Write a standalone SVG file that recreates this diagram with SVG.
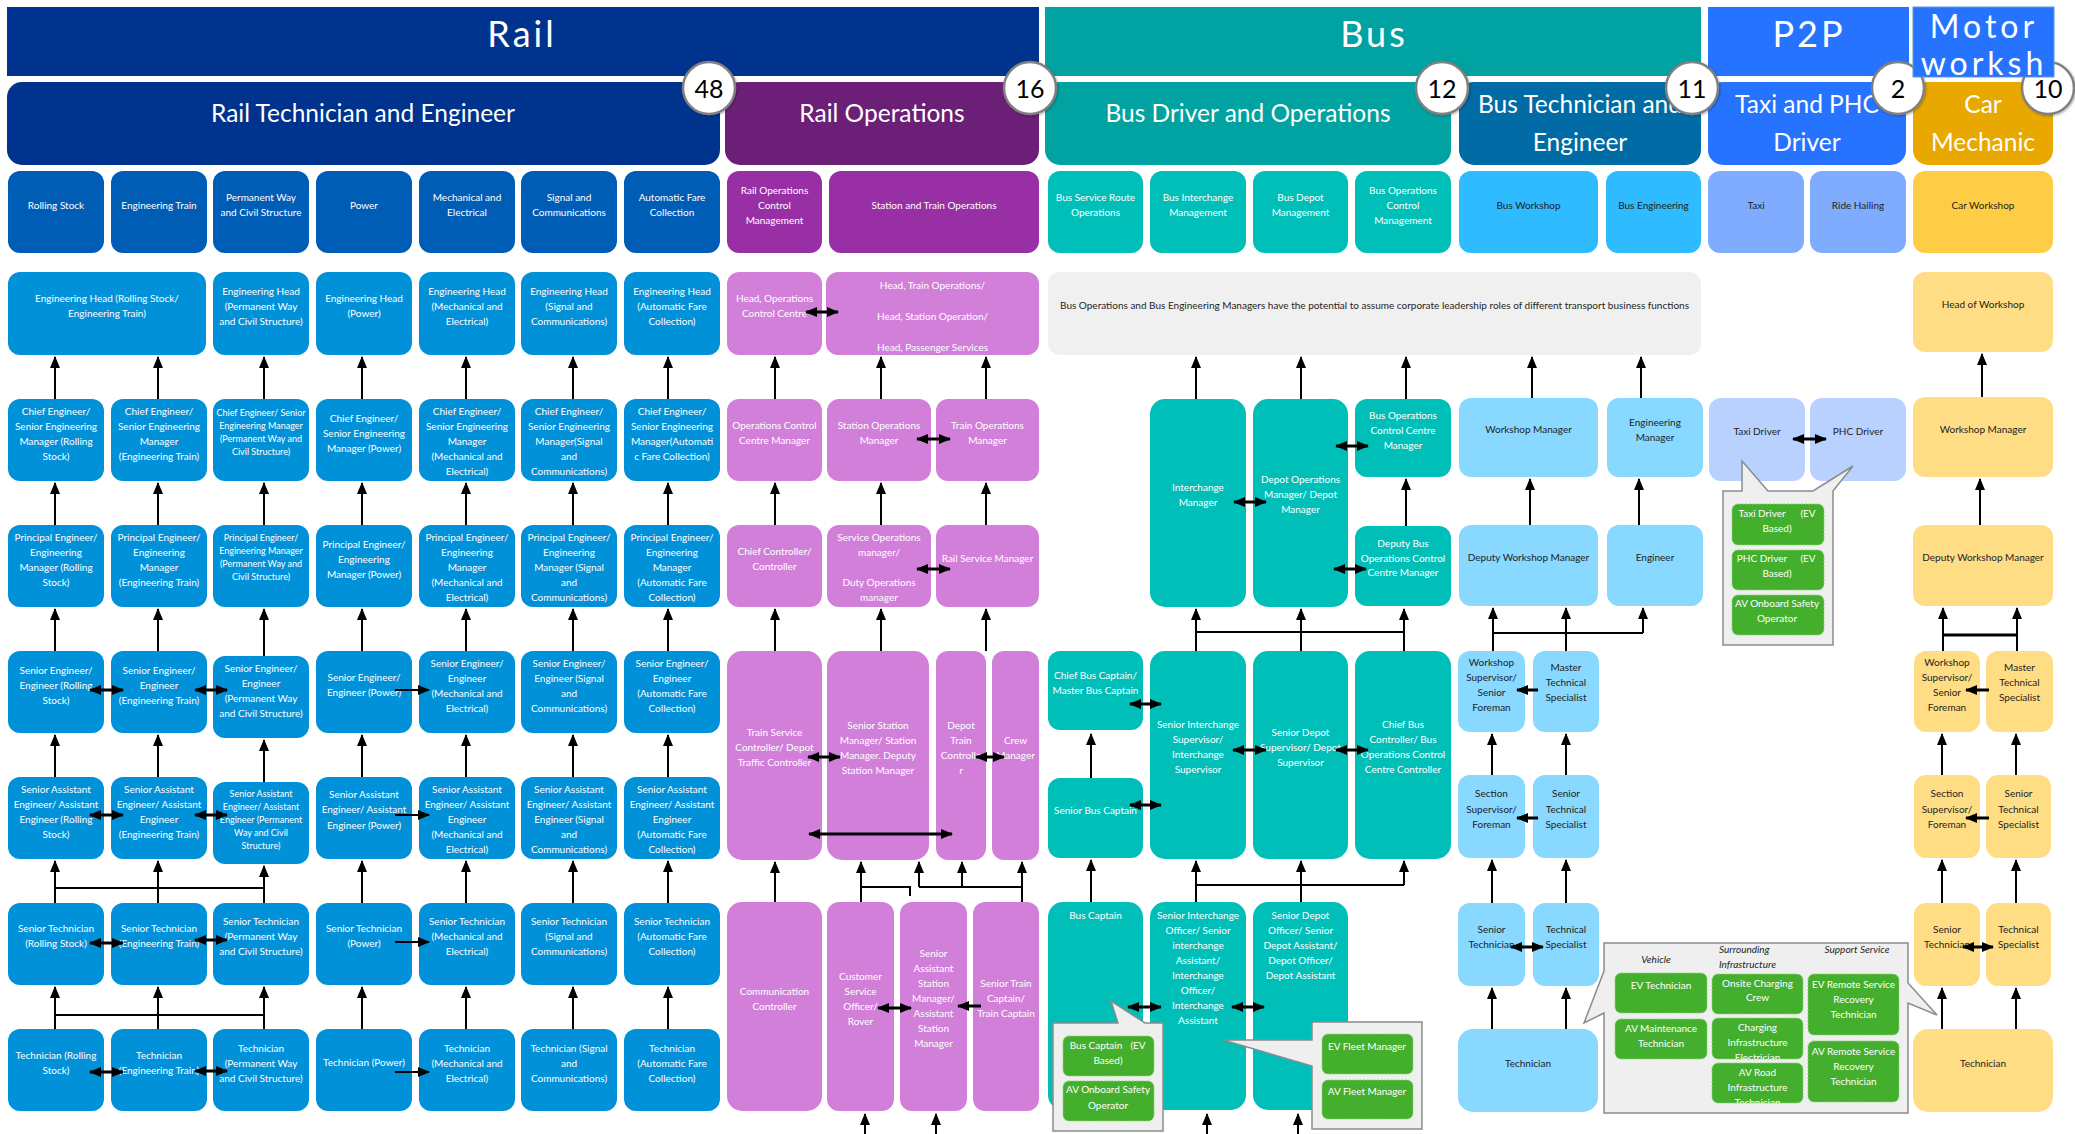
<svg xmlns="http://www.w3.org/2000/svg" width="2075" height="1134" viewBox="0 0 2075 1134">
<defs>
<style>
.t{font-family:Lato,"Open Sans","Liberation Sans",sans-serif;font-size:10px;text-anchor:middle;dominant-baseline:central}
.s9{font-size:9px}
.w{fill:#fff}.k{fill:#1e1e1e}
.it{font-style:italic}
.h1{font-family:Lato,"Open Sans",sans-serif;font-size:36px;fill:#fff;text-anchor:middle;letter-spacing:3px}
.h1m{font-family:Lato,"Open Sans",sans-serif;font-size:32px;fill:#fff;text-anchor:middle;letter-spacing:4px}
.h2{font-family:Lato,"Open Sans",sans-serif;font-size:24.5px;fill:#fff;text-anchor:middle}
.num{font-family:Lato,"Open Sans",sans-serif;font-size:25px;fill:#000;text-anchor:middle;dominant-baseline:central}
.rh{fill:#00338d}.rc{fill:#005db6}.rr{fill:#0091d9}
.oh{fill:#6c1f77}.oc{fill:#982fa4}.or{fill:#d27fda}
.bh{fill:#00a3a1}.bc{fill:#00bfb9}
.th{fill:#006ba5}.tc{fill:#2ebbff}.tr{fill:#88d8ff}
.ph{fill:#2673ff}.pc{fill:#80acff}.pr{fill:#b8d1ff}
.ch{fill:#e9a800}.cc{fill:#ffcd45}.cr{fill:#ffdd85}
.nt{fill:#f0f0f0}
.gn{fill:#43af2c;stroke:#8bd572;stroke-width:1;stroke-dasharray:2 1.5}
.co{fill:#efefef;stroke:#8c8c8c;stroke-width:1.5}
.cir{fill:#fff;stroke:#808080;stroke-width:2.5}
.ln{stroke:#000;stroke-width:2;fill:none}
.bd{stroke:#000;stroke-width:3;fill:none}
</style>
<marker id="a" viewBox="0 0 12 10" refX="11" refY="5" markerWidth="12" markerHeight="10" markerUnits="userSpaceOnUse" orient="auto-start-reverse"><path d="M0,0 L12,5 L0,10 Z" fill="#000"/></marker>
<clipPath id="cpM"><rect x="1913" y="7" width="141" height="70"/></clipPath>
<clipPath id="cpH"><rect x="826" y="272" width="213" height="83"/></clipPath>
<clipPath id="cpCI"><rect x="1712" y="1018" width="91" height="41"/></clipPath>
<clipPath id="cpAR"><rect x="1712" y="1063" width="91" height="40"/></clipPath>
<filter id="sh" x="-20%" y="-20%" width="140%" height="140%"><feDropShadow dx="1" dy="1" stdDeviation="1" flood-opacity="0.3"/></filter>
</defs>

<!-- Top headers -->
<g id="hdr-rail"><rect class="rh" x="7" y="7" width="1032" height="69"/><text class="h1" x="522" y="47">Rail</text></g>
<g id="hdr-bus"><rect class="bh" x="1045" y="7" width="656" height="69"/><text class="h1" x="1374" y="47">Bus</text></g>
<g id="hdr-p2p"><rect class="ph" x="1708" y="7" width="201" height="69"/><text class="h1" x="1809" y="47">P2P</text></g>

<!-- Sub headers -->
<g id="sub-rte"><rect class="rh" x="7" y="82" width="713" height="83" rx="15"/><text class="h2" x="363" y="122">Rail Technician and Engineer</text></g>
<g id="sub-ro"><rect class="oh" x="725" y="82" width="314" height="83" rx="15"/><text class="h2" x="882" y="122">Rail Operations</text></g>
<g id="sub-bdo"><rect class="bh" x="1045" y="82" width="406" height="83" rx="15"/><text class="h2" x="1248" y="122">Bus Driver and Operations</text></g>
<g id="sub-bte"><rect class="th" x="1459" y="82" width="242" height="83" rx="15"/><text class="h2" x="1580" y="113">Bus Technician and</text><text class="h2" x="1580" y="151">Engineer</text></g>
<g id="sub-taxi"><rect class="ph" x="1708" y="82" width="198" height="83" rx="15"/><text class="h2" x="1807" y="113">Taxi and PHC</text><text class="h2" x="1807" y="151">Driver</text></g>
<g id="sub-car"><rect class="ch" x="1913" y="82" width="140" height="83" rx="15"/><text class="h2" x="1983" y="113">Car</text><text class="h2" x="1983" y="151">Mechanic</text></g>

<!-- Circles -->
<g id="n48"><circle class="cir" cx="709" cy="88" r="26" filter="url(#sh)"/><text class="num" x="709" y="88">48</text></g>
<g id="n16"><circle class="cir" cx="1030" cy="88" r="26" filter="url(#sh)"/><text class="num" x="1030" y="88">16</text></g>
<g id="n12"><circle class="cir" cx="1442" cy="88" r="26" filter="url(#sh)"/><text class="num" x="1442" y="88">12</text></g>
<g id="n11"><circle class="cir" cx="1692" cy="88" r="26" filter="url(#sh)"/><text class="num" x="1692" y="88">11</text></g>
<g id="n2"><circle class="cir" cx="1898" cy="88" r="26" filter="url(#sh)"/><text class="num" x="1898" y="88">2</text></g>
<g id="n10"><circle class="cir" cx="2048" cy="88" r="26" filter="url(#sh)"/><text class="num" x="2048" y="88">10</text></g>

<g id="hdr-motor"><rect class="ph" x="1913" y="7" width="141" height="70" stroke="#5b9bd5" stroke-width="1"/><g clip-path="url(#cpM)"><text class="h1m" x="1984" y="38">Motor</text><text class="h1m" x="1984" y="75">worksh</text></g></g>

<!-- Category row -->
<g id="cat-rs"><rect class="rc" x="8" y="171" width="96" height="82" rx="12"/><text class="t w"><tspan x="56" y="204.5">Rolling Stock</tspan></text></g>
<g id="cat-et"><rect class="rc" x="111" y="171" width="96" height="82" rx="12"/><text class="t w"><tspan x="159" y="204.5">Engineering Train</tspan></text></g>
<g id="cat-pw"><rect class="rc" x="213" y="171" width="96" height="82" rx="12"/><text class="t w"><tspan x="261" y="197">Permanent Way</tspan><tspan x="261" y="212">and Civil Structure</tspan></text></g>
<g id="cat-pow"><rect class="rc" x="316" y="171" width="96" height="82" rx="12"/><text class="t w"><tspan x="364" y="204.5">Power</tspan></text></g>
<g id="cat-me"><rect class="rc" x="419" y="171" width="96" height="82" rx="12"/><text class="t w"><tspan x="467" y="197">Mechanical and</tspan><tspan x="467" y="212">Electrical</tspan></text></g>
<g id="cat-sc"><rect class="rc" x="521" y="171" width="96" height="82" rx="12"/><text class="t w"><tspan x="569" y="197">Signal and</tspan><tspan x="569" y="212">Communications</tspan></text></g>
<g id="cat-afc"><rect class="rc" x="624" y="171" width="96" height="82" rx="12"/><text class="t w"><tspan x="672" y="197">Automatic Fare</tspan><tspan x="672" y="212">Collection</tspan></text></g>
<g id="cat-rocm"><rect class="oc" x="727" y="171" width="95" height="82" rx="12"/><text class="t w"><tspan x="774.5" y="189.5">Rail Operations</tspan><tspan x="774.5" y="204.5">Control</tspan><tspan x="774.5" y="219.5">Management</tspan></text></g>
<g id="cat-sto"><rect class="oc" x="829" y="171" width="210" height="82" rx="12"/><text class="t w"><tspan x="934" y="204.5">Station and Train Operations</tspan></text></g>
<g id="cat-bsro"><rect class="bc" x="1048" y="171" width="95" height="82" rx="12"/><text class="t w"><tspan x="1095.5" y="197">Bus Service Route</tspan><tspan x="1095.5" y="212">Operations</tspan></text></g>
<g id="cat-bim"><rect class="bc" x="1150" y="171" width="96" height="82" rx="12"/><text class="t w"><tspan x="1198" y="197">Bus Interchange</tspan><tspan x="1198" y="212">Management</tspan></text></g>
<g id="cat-bdm"><rect class="bc" x="1253" y="171" width="95" height="82" rx="12"/><text class="t w"><tspan x="1300.5" y="197">Bus Depot</tspan><tspan x="1300.5" y="212">Management</tspan></text></g>
<g id="cat-bocm"><rect class="bc" x="1355" y="171" width="96" height="82" rx="12"/><text class="t w"><tspan x="1403" y="189.5">Bus Operations</tspan><tspan x="1403" y="204.5">Control</tspan><tspan x="1403" y="219.5">Management</tspan></text></g>
<g id="cat-bw"><rect class="tc" x="1459" y="171" width="139" height="82" rx="12"/><text class="t k"><tspan x="1528.5" y="204.5">Bus Workshop</tspan></text></g>
<g id="cat-be"><rect class="tc" x="1606" y="171" width="95" height="82" rx="12"/><text class="t k"><tspan x="1653.5" y="204.5">Bus Engineering</tspan></text></g>
<g id="cat-taxi"><rect class="pc" x="1708" y="171" width="96" height="82" rx="12"/><text class="t k"><tspan x="1756" y="204.5">Taxi</tspan></text></g>
<g id="cat-ride"><rect class="pc" x="1810" y="171" width="96" height="82" rx="12"/><text class="t k"><tspan x="1858" y="204.5">Ride Hailing</tspan></text></g>
<g id="cat-cw"><rect class="cc" x="1913" y="171" width="140" height="82" rx="12"/><text class="t k"><tspan x="1983" y="204.5">Car Workshop</tspan></text></g>

<!-- Row 2 -->
<g id="eh-rset"><rect class="rr" x="8" y="272" width="198" height="83" rx="12"/><text class="t w"><tspan x="107" y="298">Engineering Head (Rolling Stock/</tspan><tspan x="107" y="313">Engineering Train)</tspan></text></g>
<g id="eh-pw"><rect class="rr" x="213" y="272" width="96" height="83" rx="12"/><text class="t w"><tspan x="261" y="290.5">Engineering Head</tspan><tspan x="261" y="305.5">(Permanent Way</tspan><tspan x="261" y="320.5">and Civil Structure)</tspan></text></g>
<g id="eh-pow"><rect class="rr" x="316" y="272" width="96" height="83" rx="12"/><text class="t w"><tspan x="364" y="298">Engineering Head</tspan><tspan x="364" y="313">(Power)</tspan></text></g>
<g id="eh-me"><rect class="rr" x="419" y="272" width="96" height="83" rx="12"/><text class="t w"><tspan x="467" y="290.5">Engineering Head</tspan><tspan x="467" y="305.5">(Mechanical and</tspan><tspan x="467" y="320.5">Electrical)</tspan></text></g>
<g id="eh-sc"><rect class="rr" x="521" y="272" width="96" height="83" rx="12"/><text class="t w"><tspan x="569" y="290.5">Engineering Head</tspan><tspan x="569" y="305.5">(Signal and</tspan><tspan x="569" y="320.5">Communications)</tspan></text></g>
<g id="eh-afc"><rect class="rr" x="624" y="272" width="96" height="83" rx="12"/><text class="t w"><tspan x="672" y="290.5">Engineering Head</tspan><tspan x="672" y="305.5">(Automatic Fare</tspan><tspan x="672" y="320.5">Collection)</tspan></text></g>
<g id="head-occ"><rect class="or" x="727" y="272" width="95" height="83" rx="12"/><text class="t w"><tspan x="774.5" y="298">Head, Operations</tspan><tspan x="774.5" y="313">Control Centre</tspan></text></g>
<g id="head-train"><rect class="or" x="826" y="272" width="213" height="83" rx="12"/><text class="t w" clip-path="url(#cpH)"><tspan x="932.5" y="285">Head, Train Operations/</tspan><tspan x="932.5" y="316">Head, Station Operation/</tspan><tspan x="932.5" y="347">Head, Passenger Services</tspan></text></g>
<g id="bus-note"><rect class="nt" x="1048" y="272" width="653" height="83" rx="12"/><text class="t k"><tspan x="1374.5" y="305">Bus Operations and Bus Engineering Managers have the potential to assume corporate leadership roles of different transport business functions</tspan></text></g>
<g id="car-head"><rect class="cr" x="1913" y="272" width="140" height="80" rx="12"/><text class="t k"><tspan x="1983" y="304">Head of Workshop</tspan></text></g>

<!-- Row 3 -->
<g id="ce-rs"><rect class="rr" x="8" y="399" width="96" height="82" rx="12"/><text class="t w"><tspan x="56" y="411">Chief Engineer/</tspan><tspan x="56" y="426">Senior Engineering</tspan><tspan x="56" y="441">Manager (Rolling</tspan><tspan x="56" y="456">Stock)</tspan></text></g>
<g id="ce-et"><rect class="rr" x="111" y="399" width="96" height="82" rx="12"/><text class="t w"><tspan x="159" y="411">Chief Engineer/</tspan><tspan x="159" y="426">Senior Engineering</tspan><tspan x="159" y="441">Manager</tspan><tspan x="159" y="456">(Engineering Train)</tspan></text></g>
<g id="ce-pw"><rect class="rr" x="213" y="399" width="96" height="82" rx="12"/><text class="t w s9"><tspan x="261" y="412">Chief Engineer/ Senior</tspan><tspan x="261" y="425">Engineering Manager</tspan><tspan x="261" y="438">(Permanent Way and</tspan><tspan x="261" y="451">Civil Structure)</tspan></text></g>
<g id="ce-pow"><rect class="rr" x="316" y="399" width="96" height="82" rx="12"/><text class="t w"><tspan x="364" y="417.5">Chief Engineer/</tspan><tspan x="364" y="432.5">Senior Engineering</tspan><tspan x="364" y="447.5">Manager (Power)</tspan></text></g>
<g id="ce-me"><rect class="rr" x="419" y="399" width="96" height="82" rx="12"/><text class="t w"><tspan x="467" y="411">Chief Engineer/</tspan><tspan x="467" y="426">Senior Engineering</tspan><tspan x="467" y="441">Manager</tspan><tspan x="467" y="456">(Mechanical and</tspan><tspan x="467" y="471">Electrical)</tspan></text></g>
<g id="ce-sc"><rect class="rr" x="521" y="399" width="96" height="82" rx="12"/><text class="t w"><tspan x="569" y="411">Chief Engineer/</tspan><tspan x="569" y="426">Senior Engineering</tspan><tspan x="569" y="441">Manager(Signal</tspan><tspan x="569" y="456">and</tspan><tspan x="569" y="471">Communications)</tspan></text></g>
<g id="ce-afc"><rect class="rr" x="624" y="399" width="96" height="82" rx="12"/><text class="t w"><tspan x="672" y="411">Chief Engineer/</tspan><tspan x="672" y="426">Senior Engineering</tspan><tspan x="672" y="441">Manager(Automati</tspan><tspan x="672" y="456">c Fare Collection)</tspan></text></g>
<g id="occ-mgr"><rect class="or" x="727" y="399" width="95" height="82" rx="12"/><text class="t w"><tspan x="774.5" y="425">Operations Control</tspan><tspan x="774.5" y="440">Centre Manager</tspan></text></g>
<g id="so-mgr"><rect class="or" x="827" y="399" width="104" height="82" rx="12"/><text class="t w"><tspan x="879" y="425">Station Operations</tspan><tspan x="879" y="440">Manager</tspan></text></g>
<g id="to-mgr"><rect class="or" x="936" y="399" width="103" height="82" rx="12"/><text class="t w"><tspan x="987.5" y="425">Train Operations</tspan><tspan x="987.5" y="440">Manager</tspan></text></g>
<g id="ic-mgr"><rect class="bc" x="1150" y="399" width="96" height="208" rx="15"/><text class="t w"><tspan x="1198" y="487">Interchange</tspan><tspan x="1198" y="502">Manager</tspan></text></g>
<g id="depot-mgr"><rect class="bc" x="1253" y="399" width="95" height="208" rx="15"/><text class="t w"><tspan x="1300.5" y="479">Depot Operations</tspan><tspan x="1300.5" y="494">Manager/ Depot</tspan><tspan x="1300.5" y="509">Manager</tspan></text></g>
<g id="bocc-mgr"><rect class="bc" x="1355" y="399" width="96" height="78" rx="12"/><text class="t w"><tspan x="1403" y="415">Bus Operations</tspan><tspan x="1403" y="430">Control Centre</tspan><tspan x="1403" y="445">Manager</tspan></text></g>
<g id="bw-mgr"><rect class="tr" x="1459" y="398" width="139" height="79" rx="12"/><text class="t k"><tspan x="1528.5" y="429">Workshop Manager</tspan></text></g>
<g id="be-mgr"><rect class="tr" x="1607" y="398" width="96" height="79" rx="12"/><text class="t k"><tspan x="1655" y="422">Engineering</tspan><tspan x="1655" y="437">Manager</tspan></text></g>
<g id="taxi-drv"><rect class="pr" x="1709" y="398" width="96" height="83" rx="12"/><text class="t k"><tspan x="1757" y="431">Taxi Driver</tspan></text></g>
<g id="phc-drv"><rect class="pr" x="1810" y="398" width="96" height="83" rx="12"/><text class="t k"><tspan x="1858" y="431">PHC Driver</tspan></text></g>
<g id="car-wm"><rect class="cr" x="1913" y="397" width="140" height="80" rx="12"/><text class="t k"><tspan x="1983" y="429">Workshop Manager</tspan></text></g>

<!-- Row 4 -->
<g id="pe-rs"><rect class="rr" x="8" y="525" width="96" height="82" rx="12"/><text class="t w"><tspan x="56" y="537">Principal Engineer/</tspan><tspan x="56" y="552">Engineering</tspan><tspan x="56" y="567">Manager (Rolling</tspan><tspan x="56" y="582">Stock)</tspan></text></g>
<g id="pe-et"><rect class="rr" x="111" y="525" width="96" height="82" rx="12"/><text class="t w"><tspan x="159" y="537">Principal Engineer/</tspan><tspan x="159" y="552">Engineering</tspan><tspan x="159" y="567">Manager</tspan><tspan x="159" y="582">(Engineering Train)</tspan></text></g>
<g id="pe-pw"><rect class="rr" x="213" y="525" width="96" height="82" rx="12"/><text class="t w s9"><tspan x="261" y="537">Principal Engineer/</tspan><tspan x="261" y="550">Engineering Manager</tspan><tspan x="261" y="563">(Permanent Way and</tspan><tspan x="261" y="576">Civil Structure)</tspan></text></g>
<g id="pe-pow"><rect class="rr" x="316" y="525" width="96" height="82" rx="12"/><text class="t w"><tspan x="364" y="543.5">Principal Engineer/</tspan><tspan x="364" y="558.5">Engineering</tspan><tspan x="364" y="573.5">Manager (Power)</tspan></text></g>
<g id="pe-me"><rect class="rr" x="419" y="525" width="96" height="82" rx="12"/><text class="t w"><tspan x="467" y="537">Principal Engineer/</tspan><tspan x="467" y="552">Engineering</tspan><tspan x="467" y="567">Manager</tspan><tspan x="467" y="582">(Mechanical and</tspan><tspan x="467" y="597">Electrical)</tspan></text></g>
<g id="pe-sc"><rect class="rr" x="521" y="525" width="96" height="82" rx="12"/><text class="t w"><tspan x="569" y="537">Principal Engineer/</tspan><tspan x="569" y="552">Engineering</tspan><tspan x="569" y="567">Manager (Signal</tspan><tspan x="569" y="582">and</tspan><tspan x="569" y="597">Communications)</tspan></text></g>
<g id="pe-afc"><rect class="rr" x="624" y="525" width="96" height="82" rx="12"/><text class="t w"><tspan x="672" y="537">Principal Engineer/</tspan><tspan x="672" y="552">Engineering</tspan><tspan x="672" y="567">Manager</tspan><tspan x="672" y="582">(Automatic Fare</tspan><tspan x="672" y="597">Collection)</tspan></text></g>
<g id="chief-ctrl"><rect class="or" x="727" y="525" width="95" height="82" rx="12"/><text class="t w"><tspan x="774.5" y="551">Chief Controller/</tspan><tspan x="774.5" y="566">Controller</tspan></text></g>
<g id="svc-ops"><rect class="or" x="827" y="525" width="104" height="82" rx="12"/><text class="t w"><tspan x="879" y="537">Service Operations</tspan><tspan x="879" y="552">manager/</tspan><tspan x="879" y="582">Duty Operations</tspan><tspan x="879" y="597">manager</tspan></text></g>
<g id="rail-svc"><rect class="or" x="936" y="525" width="103" height="82" rx="12"/><text class="t w"><tspan x="987.5" y="558">Rail Service Manager</tspan></text></g>
<g id="dep-bocc"><rect class="bc" x="1355" y="526" width="96" height="80" rx="12"/><text class="t w"><tspan x="1403" y="543">Deputy Bus</tspan><tspan x="1403" y="557.5">Operations Control</tspan><tspan x="1403" y="572">Centre Manager</tspan></text></g>
<g id="bw-dep"><rect class="tr" x="1459" y="525" width="139" height="81" rx="12"/><text class="t k"><tspan x="1528.5" y="557">Deputy Workshop Manager</tspan></text></g>
<g id="be-eng"><rect class="tr" x="1607" y="525" width="96" height="81" rx="12"/><text class="t k"><tspan x="1655" y="557">Engineer</tspan></text></g>
<g id="car-dep"><rect class="cr" x="1913" y="525" width="140" height="81" rx="12"/><text class="t k"><tspan x="1983" y="557">Deputy Workshop Manager</tspan></text></g>

<!-- Row 5 -->
<g id="se-rs"><rect class="rr" x="8" y="651" width="96" height="82" rx="12"/><text class="t w"><tspan x="56" y="669.5">Senior Engineer/</tspan><tspan x="56" y="684.5">Engineer (Rolling</tspan><tspan x="56" y="699.5">Stock)</tspan></text></g>
<g id="se-et"><rect class="rr" x="111" y="651" width="96" height="82" rx="12"/><text class="t w"><tspan x="159" y="669.5">Senior Engineer/</tspan><tspan x="159" y="684.5">Engineer</tspan><tspan x="159" y="699.5">(Engineering Train)</tspan></text></g>
<g id="se-pw"><rect class="rr" x="213" y="656" width="96" height="82" rx="12"/><text class="t w"><tspan x="261" y="668">Senior Engineer/</tspan><tspan x="261" y="683">Engineer</tspan><tspan x="261" y="698">(Permanent Way</tspan><tspan x="261" y="713">and Civil Structure)</tspan></text></g>
<g id="se-pow"><rect class="rr" x="316" y="651" width="96" height="82" rx="12"/><text class="t w"><tspan x="364" y="677">Senior Engineer/</tspan><tspan x="364" y="692">Engineer (Power)</tspan></text></g>
<g id="se-me"><rect class="rr" x="419" y="651" width="96" height="82" rx="12"/><text class="t w"><tspan x="467" y="663">Senior Engineer/</tspan><tspan x="467" y="678">Engineer</tspan><tspan x="467" y="693">(Mechanical and</tspan><tspan x="467" y="708">Electrical)</tspan></text></g>
<g id="se-sc"><rect class="rr" x="521" y="651" width="96" height="82" rx="12"/><text class="t w"><tspan x="569" y="663">Senior Engineer/</tspan><tspan x="569" y="678">Engineer (Signal</tspan><tspan x="569" y="693">and</tspan><tspan x="569" y="708">Communications)</tspan></text></g>
<g id="se-afc"><rect class="rr" x="624" y="651" width="96" height="82" rx="12"/><text class="t w"><tspan x="672" y="663">Senior Engineer/</tspan><tspan x="672" y="678">Engineer</tspan><tspan x="672" y="693">(Automatic Fare</tspan><tspan x="672" y="708">Collection)</tspan></text></g>
<g id="tsc"><rect class="or" x="727" y="651" width="95" height="209" rx="15"/><text class="t w"><tspan x="774.5" y="732">Train Service</tspan><tspan x="774.5" y="747">Controller/ Depot</tspan><tspan x="774.5" y="762">Traffic Controller</tspan></text></g>
<g id="ssm"><rect class="or" x="827" y="651" width="102" height="209" rx="15"/><text class="t w"><tspan x="878" y="724.5">Senior Station</tspan><tspan x="878" y="739.5">Manager/ Station</tspan><tspan x="878" y="754.5">Manager. Deputy</tspan><tspan x="878" y="769.5">Station Manager</tspan></text></g>
<g id="dtc"><rect class="or" x="936" y="651" width="50" height="209" rx="12"/><text class="t w"><tspan x="961" y="724.5">Depot</tspan><tspan x="961" y="739.5">Train</tspan><tspan x="961" y="754.5">Controlle</tspan><tspan x="961" y="769.5">r</tspan></text></g>
<g id="crew"><rect class="or" x="992" y="651" width="47" height="209" rx="12"/><text class="t w"><tspan x="1015.5" y="739.5">Crew</tspan><tspan x="1015.5" y="754.5">Manager</tspan></text></g>
<g id="cbc"><rect class="bc" x="1048" y="651" width="95" height="79" rx="12"/><text class="t w"><tspan x="1095.5" y="675">Chief Bus Captain/</tspan><tspan x="1095.5" y="690">Master Bus Captain</tspan></text></g>
<g id="sis"><rect class="bc" x="1150" y="651" width="96" height="208" rx="15"/><text class="t w"><tspan x="1198" y="724">Senior Interchange</tspan><tspan x="1198" y="739">Supervisor/</tspan><tspan x="1198" y="754">Interchange</tspan><tspan x="1198" y="769">Supervisor</tspan></text></g>
<g id="sds"><rect class="bc" x="1253" y="651" width="95" height="208" rx="15"/><text class="t w"><tspan x="1300.5" y="732">Senior Depot</tspan><tspan x="1300.5" y="747">Supervisor/ Depot</tspan><tspan x="1300.5" y="762">Supervisor</tspan></text></g>
<g id="cbctrl"><rect class="bc" x="1355" y="651" width="96" height="208" rx="15"/><text class="t w"><tspan x="1403" y="724">Chief Bus</tspan><tspan x="1403" y="739">Controller/ Bus</tspan><tspan x="1403" y="754">Operations Control</tspan><tspan x="1403" y="769">Centre Controller</tspan></text></g>
<g id="bw-ws"><rect class="tr" x="1458" y="651" width="67" height="81" rx="12"/><text class="t k"><tspan x="1491.5" y="662">Workshop</tspan><tspan x="1491.5" y="677">Supervisor/</tspan><tspan x="1491.5" y="692">Senior</tspan><tspan x="1491.5" y="707">Foreman</tspan></text></g>
<g id="bw-mts"><rect class="tr" x="1533" y="651" width="66" height="81" rx="12"/><text class="t k"><tspan x="1566" y="667">Master</tspan><tspan x="1566" y="682">Technical</tspan><tspan x="1566" y="697">Specialist</tspan></text></g>
<g id="car-ws"><rect class="cr" x="1914" y="651" width="66" height="81" rx="12"/><text class="t k"><tspan x="1947" y="662">Workshop</tspan><tspan x="1947" y="677">Supervisor/</tspan><tspan x="1947" y="692">Senior</tspan><tspan x="1947" y="707">Foreman</tspan></text></g>
<g id="car-mts"><rect class="cr" x="1986" y="651" width="67" height="81" rx="12"/><text class="t k"><tspan x="2019.5" y="667">Master</tspan><tspan x="2019.5" y="682">Technical</tspan><tspan x="2019.5" y="697">Specialist</tspan></text></g>

<!-- Row 6 -->
<g id="sae-rs"><rect class="rr" x="8" y="777" width="96" height="82" rx="12"/><text class="t w"><tspan x="56" y="789">Senior Assistant</tspan><tspan x="56" y="804">Engineer/ Assistant</tspan><tspan x="56" y="819">Engineer (Rolling</tspan><tspan x="56" y="834">Stock)</tspan></text></g>
<g id="sae-et"><rect class="rr" x="111" y="777" width="96" height="82" rx="12"/><text class="t w"><tspan x="159" y="789">Senior Assistant</tspan><tspan x="159" y="804">Engineer/ Assistant</tspan><tspan x="159" y="819">Engineer</tspan><tspan x="159" y="834">(Engineering Train)</tspan></text></g>
<g id="sae-pw"><rect class="rr" x="213" y="782" width="96" height="82" rx="12"/><text class="t w s9"><tspan x="261" y="793">Senior Assistant</tspan><tspan x="261" y="806">Engineer/ Assistant</tspan><tspan x="261" y="819">Engineer (Permanent</tspan><tspan x="261" y="832">Way and Civil</tspan><tspan x="261" y="845">Structure)</tspan></text></g>
<g id="sae-pow"><rect class="rr" x="316" y="777" width="96" height="82" rx="12"/><text class="t w"><tspan x="364" y="794">Senior Assistant</tspan><tspan x="364" y="809">Engineer/ Assistant</tspan><tspan x="364" y="825">Engineer (Power)</tspan></text></g>
<g id="sae-me"><rect class="rr" x="419" y="777" width="96" height="82" rx="12"/><text class="t w"><tspan x="467" y="789">Senior Assistant</tspan><tspan x="467" y="804">Engineer/ Assistant</tspan><tspan x="467" y="819">Engineer</tspan><tspan x="467" y="834">(Mechanical and</tspan><tspan x="467" y="849">Electrical)</tspan></text></g>
<g id="sae-sc"><rect class="rr" x="521" y="777" width="96" height="82" rx="12"/><text class="t w"><tspan x="569" y="789">Senior Assistant</tspan><tspan x="569" y="804">Engineer/ Assistant</tspan><tspan x="569" y="819">Engineer (Signal</tspan><tspan x="569" y="834">and</tspan><tspan x="569" y="849">Communications)</tspan></text></g>
<g id="sae-afc"><rect class="rr" x="624" y="777" width="96" height="82" rx="12"/><text class="t w"><tspan x="672" y="789">Senior Assistant</tspan><tspan x="672" y="804">Engineer/ Assistant</tspan><tspan x="672" y="819">Engineer</tspan><tspan x="672" y="834">(Automatic Fare</tspan><tspan x="672" y="849">Collection)</tspan></text></g>
<g id="sbc"><rect class="bc" x="1048" y="778" width="95" height="80" rx="12"/><text class="t w"><tspan x="1095.5" y="810">Senior Bus Captain</tspan></text></g>
<g id="bw-ss"><rect class="tr" x="1458" y="775" width="67" height="83" rx="12"/><text class="t k"><tspan x="1491.5" y="793">Section</tspan><tspan x="1491.5" y="808.5">Supervisor/</tspan><tspan x="1491.5" y="824">Foreman</tspan></text></g>
<g id="bw-sts"><rect class="tr" x="1533" y="775" width="66" height="83" rx="12"/><text class="t k"><tspan x="1566" y="793">Senior</tspan><tspan x="1566" y="808.5">Technical</tspan><tspan x="1566" y="824">Specialist</tspan></text></g>
<g id="car-ss"><rect class="cr" x="1914" y="775" width="66" height="83" rx="12"/><text class="t k"><tspan x="1947" y="793">Section</tspan><tspan x="1947" y="808.5">Supervisor/</tspan><tspan x="1947" y="824">Foreman</tspan></text></g>
<g id="car-sts"><rect class="cr" x="1986" y="775" width="65" height="83" rx="12"/><text class="t k"><tspan x="2018.5" y="793">Senior</tspan><tspan x="2018.5" y="808.5">Technical</tspan><tspan x="2018.5" y="824">Specialist</tspan></text></g>

<!-- Row 7 -->
<g id="st-rs"><rect class="rr" x="8" y="903" width="96" height="82" rx="12"/><text class="t w"><tspan x="56" y="928">Senior Technician</tspan><tspan x="56" y="943">(Rolling Stock)</tspan></text></g>
<g id="st-et"><rect class="rr" x="111" y="903" width="96" height="82" rx="12"/><text class="t w"><tspan x="159" y="928">Senior Technician</tspan><tspan x="159" y="943">(Engineering Train)</tspan></text></g>
<g id="st-pw"><rect class="rr" x="213" y="903" width="96" height="82" rx="12"/><text class="t w"><tspan x="261" y="921">Senior Technician</tspan><tspan x="261" y="936">(Permanent Way</tspan><tspan x="261" y="951">and Civil Structure)</tspan></text></g>
<g id="st-pow"><rect class="rr" x="316" y="903" width="96" height="82" rx="12"/><text class="t w"><tspan x="364" y="928">Senior Technician</tspan><tspan x="364" y="943">(Power)</tspan></text></g>
<g id="st-me"><rect class="rr" x="419" y="903" width="96" height="82" rx="12"/><text class="t w"><tspan x="467" y="921">Senior Technician</tspan><tspan x="467" y="936">(Mechanical and</tspan><tspan x="467" y="951">Electrical)</tspan></text></g>
<g id="st-sc"><rect class="rr" x="521" y="903" width="96" height="82" rx="12"/><text class="t w"><tspan x="569" y="921">Senior Technician</tspan><tspan x="569" y="936">(Signal and</tspan><tspan x="569" y="951">Communications)</tspan></text></g>
<g id="st-afc"><rect class="rr" x="624" y="903" width="96" height="82" rx="12"/><text class="t w"><tspan x="672" y="921">Senior Technician</tspan><tspan x="672" y="936">(Automatic Fare</tspan><tspan x="672" y="951">Collection)</tspan></text></g>
<g id="comm"><rect class="or" x="727" y="902" width="95" height="209" rx="15"/><text class="t w"><tspan x="774.5" y="991">Communication</tspan><tspan x="774.5" y="1006">Controller</tspan></text></g>
<g id="cso"><rect class="or" x="827" y="902" width="67" height="209" rx="12"/><text class="t w"><tspan x="860.5" y="976">Customer</tspan><tspan x="860.5" y="991">Service</tspan><tspan x="860.5" y="1006">Officer/</tspan><tspan x="860.5" y="1021">Rover</tspan></text></g>
<g id="sasm"><rect class="or" x="900" y="902" width="67" height="209" rx="12"/><text class="t w"><tspan x="933.5" y="953">Senior</tspan><tspan x="933.5" y="968">Assistant</tspan><tspan x="933.5" y="983">Station</tspan><tspan x="933.5" y="998">Manager/</tspan><tspan x="933.5" y="1013">Assistant</tspan><tspan x="933.5" y="1028">Station</tspan><tspan x="933.5" y="1043">Manager</tspan></text></g>
<g id="stc"><rect class="or" x="973" y="902" width="66" height="209" rx="12"/><text class="t w"><tspan x="1006" y="983">Senior Train</tspan><tspan x="1006" y="998">Captain/</tspan><tspan x="1006" y="1013">Train Captain</tspan></text></g>
<g id="bc"><rect class="bc" x="1048" y="902" width="95" height="208" rx="15"/><text class="t w"><tspan x="1095.5" y="915">Bus Captain</tspan></text></g>
<g id="sio"><rect class="bc" x="1150" y="902" width="96" height="208" rx="15"/><text class="t w"><tspan x="1198" y="915">Senior Interchange</tspan><tspan x="1198" y="930">Officer/ Senior</tspan><tspan x="1198" y="945">interchange</tspan><tspan x="1198" y="960">Assistant/</tspan><tspan x="1198" y="975">Interchange</tspan><tspan x="1198" y="990">Officer/</tspan><tspan x="1198" y="1005">Interchange</tspan><tspan x="1198" y="1020">Assistant</tspan></text></g>
<g id="sdo"><rect class="bc" x="1253" y="902" width="95" height="208" rx="15"/><text class="t w"><tspan x="1300.5" y="915">Senior Depot</tspan><tspan x="1300.5" y="930">Officer/ Senior</tspan><tspan x="1300.5" y="945">Depot Assistant/</tspan><tspan x="1300.5" y="960">Depot Officer/</tspan><tspan x="1300.5" y="975">Depot Assistant</tspan></text></g>
<g id="bw-st"><rect class="tr" x="1458" y="903" width="67" height="83" rx="12"/><text class="t k"><tspan x="1491.5" y="929">Senior</tspan><tspan x="1491.5" y="944">Technician</tspan></text></g>
<g id="bw-ts"><rect class="tr" x="1533" y="903" width="66" height="83" rx="12"/><text class="t k"><tspan x="1566" y="929">Technical</tspan><tspan x="1566" y="944">Specialist</tspan></text></g>
<g id="car-st"><rect class="cr" x="1914" y="903" width="66" height="83" rx="12"/><text class="t k"><tspan x="1947" y="929">Senior</tspan><tspan x="1947" y="944">Technician</tspan></text></g>
<g id="car-ts"><rect class="cr" x="1986" y="903" width="65" height="83" rx="12"/><text class="t k"><tspan x="2018.5" y="929">Technical</tspan><tspan x="2018.5" y="944">Specialist</tspan></text></g>

<!-- Row 8 -->
<g id="te-rs"><rect class="rr" x="8" y="1029" width="96" height="82" rx="12"/><text class="t w"><tspan x="56" y="1055">Technician (Rolling</tspan><tspan x="56" y="1070">Stock)</tspan></text></g>
<g id="te-et"><rect class="rr" x="111" y="1029" width="96" height="82" rx="12"/><text class="t w"><tspan x="159" y="1055">Technician</tspan><tspan x="159" y="1070">(Engineering Train)</tspan></text></g>
<g id="te-pw"><rect class="rr" x="213" y="1029" width="96" height="82" rx="12"/><text class="t w"><tspan x="261" y="1047.5">Technician</tspan><tspan x="261" y="1062.5">(Permanent Way</tspan><tspan x="261" y="1077.5">and Civil Structure)</tspan></text></g>
<g id="te-pow"><rect class="rr" x="316" y="1029" width="96" height="82" rx="12"/><text class="t w"><tspan x="364" y="1062">Technician (Power)</tspan></text></g>
<g id="te-me"><rect class="rr" x="419" y="1029" width="96" height="82" rx="12"/><text class="t w"><tspan x="467" y="1047.5">Technician</tspan><tspan x="467" y="1062.5">(Mechanical and</tspan><tspan x="467" y="1077.5">Electrical)</tspan></text></g>
<g id="te-sc"><rect class="rr" x="521" y="1029" width="96" height="82" rx="12"/><text class="t w"><tspan x="569" y="1047.5">Technician (Signal</tspan><tspan x="569" y="1062.5">and</tspan><tspan x="569" y="1077.5">Communications)</tspan></text></g>
<g id="te-afc"><rect class="rr" x="624" y="1029" width="96" height="82" rx="12"/><text class="t w"><tspan x="672" y="1047.5">Technician</tspan><tspan x="672" y="1062.5">(Automatic Fare</tspan><tspan x="672" y="1077.5">Collection)</tspan></text></g>
<g id="bw-tech"><rect class="tr" x="1458" y="1029" width="140" height="83" rx="15"/><text class="t k"><tspan x="1528" y="1063">Technician</tspan></text></g>
<g id="car-tech"><rect class="cr" x="1913" y="1029" width="140" height="83" rx="15"/><text class="t k"><tspan x="1983" y="1063">Technician</tspan></text></g>

<!-- Callouts -->
<g id="callout-taxi">
<path class="co" d="M1723,491 H1742 V461 L1768,491 H1813 L1853,466 L1833,491 V645 H1723 Z"/>
<rect class="gn" x="1732" y="504" width="92" height="41" rx="6"/>
<rect class="gn" x="1732" y="550" width="92" height="40" rx="6"/>
<rect class="gn" x="1732" y="595" width="92" height="40" rx="6"/>
<text class="t w"><tspan x="1762" y="513">Taxi Driver</tspan><tspan x="1808" y="513">(EV</tspan><tspan x="1777" y="528">Based)</tspan><tspan x="1762" y="558">PHC Driver</tspan><tspan x="1808" y="558">(EV</tspan><tspan x="1777" y="573">Based)</tspan><tspan x="1777" y="603">AV Onboard Safety</tspan><tspan x="1777" y="618">Operator</tspan></text>
</g>
<g id="callout-bc">
<path class="co" d="M1053,1023 H1118 L1111,1001 L1145,1023 H1163 V1131 H1053 Z"/>
<rect class="gn" x="1063" y="1036" width="91" height="40" rx="6"/>
<rect class="gn" x="1063" y="1081" width="91" height="40" rx="6"/>
<text class="t w"><tspan x="1096" y="1045">Bus Captain</tspan><tspan x="1138" y="1045">(EV</tspan><tspan x="1108" y="1060">Based)</tspan><tspan x="1108" y="1089">AV Onboard Safety</tspan><tspan x="1108" y="1105">Operator</tspan></text>
</g>
<g id="callout-fleet">
<path class="co" d="M1312,1022 H1422 V1129 H1312 V1066 L1223,1040 L1312,1040 Z"/>
<rect class="gn" x="1322" y="1034" width="91" height="40" rx="6"/>
<rect class="gn" x="1322" y="1080" width="91" height="39" rx="6"/>
<text class="t w"><tspan x="1367" y="1046">EV Fleet Manager</tspan><tspan x="1367" y="1091">AV Fleet Manager</tspan></text>
</g>
<g id="callout-tech">
<path class="co" d="M1604,943 H1908 V983 L1937,1015 L1908,1003 V1113 H1604 V1013 L1584,1023 L1604,971 Z"/>
<text class="t k it"><tspan x="1656" y="959">Vehicle</tspan><tspan x="1857" y="949">Support Service</tspan></text>
<text class="t k it" style="text-anchor:start"><tspan x="1719" y="949">Surrounding</tspan><tspan x="1719" y="964">Infrastructure</tspan></text>
<g id="g-evt"><rect class="gn" x="1615" y="973" width="92" height="40" rx="6"/><text class="t w"><tspan x="1661" y="985">EV Technician</tspan></text></g>
<g id="g-avm"><rect class="gn" x="1615" y="1019" width="92" height="40" rx="6"/><text class="t w"><tspan x="1661" y="1028">AV Maintenance</tspan><tspan x="1661" y="1043">Technician</tspan></text></g>
<g id="g-occ"><rect class="gn" x="1712" y="974" width="91" height="40" rx="6"/><text class="t w"><tspan x="1757.5" y="983">Onsite Charging</tspan><tspan x="1757.5" y="997">Crew</tspan></text></g>
<g id="g-cie"><rect class="gn" x="1712" y="1018" width="91" height="41" rx="6"/><text class="t w" clip-path="url(#cpCI)"><tspan x="1757.5" y="1027">Charging</tspan><tspan x="1757.5" y="1042">Infrastructure</tspan><tspan x="1757.5" y="1057">Electrician</tspan></text></g>
<g id="g-avr"><rect class="gn" x="1712" y="1063" width="91" height="40" rx="6"/><text class="t w" clip-path="url(#cpAR)"><tspan x="1757.5" y="1072">AV Road</tspan><tspan x="1757.5" y="1087">Infrastructure</tspan><tspan x="1757.5" y="1102">Technician</tspan></text></g>
<g id="g-evr"><rect class="gn" x="1808" y="974" width="91" height="61" rx="6"/><text class="t w"><tspan x="1853.5" y="984">EV Remote Service</tspan><tspan x="1853.5" y="999">Recovery</tspan><tspan x="1853.5" y="1014">Technician</tspan></text></g>
<g id="g-avrs"><rect class="gn" x="1808" y="1041" width="91" height="61" rx="6"/><text class="t w"><tspan x="1853.5" y="1051">AV Remote Service</tspan><tspan x="1853.5" y="1066">Recovery</tspan><tspan x="1853.5" y="1081">Technician</tspan></text></g>
</g>

<!-- Connectors -->
<g id="connectors">
<g class="ln" marker-end="url(#a)">
<path d="M55,399V357"/><path d="M158,399V357"/><path d="M264,399V357"/><path d="M362,399V357"/><path d="M466,399V357"/><path d="M573,399V357"/><path d="M668,399V357"/>
<path d="M55,525V483"/><path d="M158,525V483"/><path d="M264,525V483"/><path d="M362,525V483"/><path d="M466,525V483"/><path d="M573,525V483"/><path d="M668,525V483"/>
<path d="M55,651V609"/><path d="M158,651V609"/><path d="M264,656V609"/><path d="M362,651V609"/><path d="M466,651V609"/><path d="M573,651V609"/><path d="M668,651V609"/>
<path d="M55,777V735"/><path d="M158,777V735"/><path d="M264,782V740"/><path d="M362,777V735"/><path d="M466,777V735"/><path d="M573,777V735"/><path d="M668,777V735"/>
<path d="M55,903V861"/><path d="M158,903V861"/><path d="M264,903V866"/><path d="M362,903V861"/><path d="M466,903V861"/><path d="M573,903V861"/><path d="M668,903V861"/>
<path d="M55,1029V987"/><path d="M158,1029V987"/><path d="M264,1029V987"/><path d="M362,1029V987"/><path d="M466,1029V987"/><path d="M573,1029V987"/><path d="M668,1029V987"/>
<path d="M775,399V357"/><path d="M881,399V357"/><path d="M986,399V357"/>
<path d="M775,525V483"/><path d="M881,525V483"/><path d="M986,525V483"/>
<path d="M775,651V609"/><path d="M881,651V609"/><path d="M986,651V609"/>
<path d="M775,902V862"/><path d="M861,902V862"/><path d="M919,887V862"/><path d="M962,887V862"/><path d="M1022,902V862"/>
<path d="M865,1134V1114"/><path d="M936,1134V1114"/>
<path d="M1196,399V357"/><path d="M1301,399V357"/><path d="M1406,399V357"/><path d="M1532,398V357"/><path d="M1641,398V357"/>
<path d="M1406,526V479"/>
<path d="M1196,651V609"/><path d="M1301,651V609"/><path d="M1404,651V609"/>
<path d="M1091,778V734"/><path d="M1091,902V860"/>
<path d="M1196,902V861"/><path d="M1301,902V861"/><path d="M1404,885V861"/>
<path d="M1207,1134V1114"/><path d="M1298,1134V1114"/>
<path d="M1530,525V479"/><path d="M1639,525V479"/>
<path d="M1493,651V608"/><path d="M1566,651V608"/><path d="M1643,633V608"/>
<path d="M1492,775V734"/><path d="M1566,775V734"/>
<path d="M1492,903V860"/><path d="M1566,903V860"/>
<path d="M1492,1029V988"/><path d="M1566,1029V988"/>
<path d="M1982,397V354"/><path d="M1980,525V479"/>
<path d="M1943,651V608"/><path d="M2017,651V608"/>
<path d="M1942,775V734"/><path d="M2016,775V734"/>
<path d="M1942,903V860"/><path d="M2016,903V860"/>
<path d="M1942,1029V988"/><path d="M2016,1029V988"/>
</g>
<g class="ln">
<path d="M55,888H264"/><path d="M55,1015H264"/>
<path d="M861,887H910V896"/><path d="M919,887H1022"/>
<path d="M1196,632H1404"/><path d="M1196,885H1404"/>
<path d="M1493,633H1643"/>
</g>
<path class="bd" d="M1943,635H2017"/>
<g class="bd" marker-start="url(#a)" marker-end="url(#a)">
<path d="M90,690H123"/><path d="M195,690H227"/>
<path d="M90,815H123"/><path d="M195,815H227"/>
<path d="M90,943H123"/><path d="M195,940H227"/>
<path d="M90,1072H123"/><path d="M195,1071H227"/>
<path d="M806,312H838"/><path d="M917,439H950"/><path d="M917,569H950"/>
<path d="M808,757H840"/><path d="M976,757H1004"/><path d="M809,834H952"/>
<path d="M878,1008H911"/>
<path d="M1336,446H1368"/><path d="M1234,502H1266"/><path d="M1334,569H1366"/>
<path d="M1130,704H1161"/><path d="M1233,750H1266"/><path d="M1336,750H1368"/>
<path d="M1130,805H1161"/><path d="M1128,1007H1161"/><path d="M1232,1007H1264"/>
<path d="M1511,947H1543"/><path d="M1963,947H1993"/>
<path d="M1793,439H1826"/>
</g>
<g class="ln" marker-end="url(#a)">
<path d="M395,690H429"/><path d="M395,815H429"/><path d="M395,942H429"/><path d="M395,1072H429"/>
</g>
<g class="bd" marker-end="url(#a)">
<path d="M981,1006H958"/>
<path d="M1538,690H1517"/><path d="M1538,818H1517"/>
<path d="M1989,690H1966"/><path d="M1989,818H1966"/>
</g>
</g>
</svg>
